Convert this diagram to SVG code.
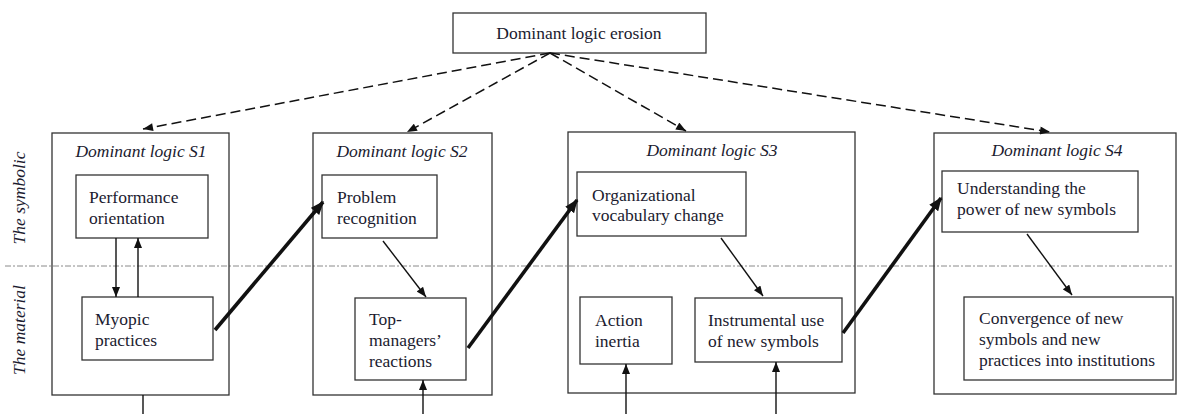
<svg xmlns="http://www.w3.org/2000/svg" width="1178" height="414" viewBox="0 0 1178 414">
<style>
.box{fill:#fff;stroke:#333;stroke-width:1.3}
.frame{fill:none;stroke:#333;stroke-width:1.3}
.t{font-family:"Liberation Serif","Times New Roman",serif;font-size:17.5px;fill:#1b1b2f}
.h{font-family:"Liberation Serif","Times New Roman",serif;font-size:17.5px;font-style:italic;fill:#1b1b2f;text-anchor:middle}
.thin{stroke:#111;stroke-width:1.4;fill:none}
.thick{stroke:#111;stroke-width:3.6;fill:none}
.dash{stroke:#111;stroke-width:1.5;fill:none;stroke-dasharray:10 5}
</style>
<defs>
<marker id="a" viewBox="0 0 10 8" refX="10" refY="4" markerWidth="11" markerHeight="8" markerUnits="userSpaceOnUse" orient="auto"><path d="M0,0L10,4L0,8z" fill="#111"/></marker>
<marker id="ab" viewBox="0 0 10 8" refX="9" refY="4" markerWidth="14" markerHeight="11" markerUnits="userSpaceOnUse" orient="auto"><path d="M0,0L10,4L0,8z" fill="#111"/></marker>
</defs>
<rect width="1178" height="414" fill="#fff"/>
<line x1="5" y1="266" x2="1172" y2="266" stroke="#8a8a8a" stroke-width="1" stroke-dasharray="6 2 2 2"/>
<text class="h" transform="translate(25,198) rotate(-90)">The symbolic</text>
<text class="h" transform="translate(25,330) rotate(-90)">The material</text>

<g id="erosion"><rect class="box" x="453" y="13" width="253" height="40"/><text class="t" x="579" y="39" text-anchor="middle">Dominant logic erosion</text></g>

<g id="S1"><rect class="frame" x="52" y="133" width="177" height="262"/><text class="h" x="141" y="157">Dominant logic S1</text></g>
<g id="perf"><rect class="box" x="76" y="175" width="132" height="63"/><text class="t" x="89" y="203">Performance</text><text class="t" x="89" y="224">orientation</text></g>
<g id="myopic"><rect class="box" x="82" y="297" width="131" height="63"/><text class="t" x="95" y="325">Myopic</text><text class="t" x="95" y="346">practices</text></g>

<g id="S2"><rect class="frame" x="313" y="133" width="179" height="262"/><text class="h" x="402" y="157">Dominant logic S2</text></g>
<g id="problem"><rect class="box" x="322" y="175" width="115" height="63"/><text class="t" x="337" y="203">Problem</text><text class="t" x="337" y="224">recognition</text></g>
<g id="top"><rect class="box" x="355" y="298" width="111" height="82"/><text class="t" x="369" y="325">Top-</text><text class="t" x="369" y="346">managers’</text><text class="t" x="369" y="367">reactions</text></g>

<g id="S3"><rect class="frame" x="568" y="132" width="287" height="261"/><text class="h" x="712" y="156">Dominant logic S3</text></g>
<g id="vocab"><rect class="box" x="577" y="172" width="169" height="64"/><text class="t" x="592" y="201">Organizational</text><text class="t" x="592" y="221">vocabulary change</text></g>
<g id="inertia"><rect class="box" x="580" y="297" width="92" height="67"/><text class="t" x="595" y="326">Action</text><text class="t" x="595" y="347">inertia</text></g>
<g id="instr"><rect class="box" x="695" y="298" width="147" height="64"/><text class="t" x="708" y="326">Instrumental use</text><text class="t" x="708" y="347">of new symbols</text></g>

<g id="S4"><rect class="frame" x="934" y="133" width="242" height="261"/><text class="h" x="1057" y="156">Dominant logic S4</text></g>
<g id="understand"><rect class="box" x="942" y="171" width="196" height="61"/><text class="t" x="957" y="194">Understanding the</text><text class="t" x="957" y="215">power of new symbols</text></g>
<g id="converge"><rect class="box" x="964" y="297" width="209" height="83"/><text class="t" x="979" y="324">Convergence of new</text><text class="t" x="979" y="345">symbols and new</text><text class="t" x="979" y="366">practices into institutions</text></g>

<g id="connectors">
<line class="dash" x1="550" y1="53" x2="143" y2="129" marker-end="url(#a)"/>
<line class="dash" x1="550" y1="53" x2="407" y2="132" marker-end="url(#a)"/>
<line class="dash" x1="550" y1="53" x2="686" y2="131" marker-end="url(#a)"/>
<line class="dash" x1="550" y1="53" x2="1050" y2="132" marker-end="url(#a)"/>
<line class="thin" x1="116" y1="238" x2="116" y2="297" marker-end="url(#a)"/>
<line class="thin" x1="138" y1="297" x2="138" y2="238" marker-end="url(#a)"/>
<line class="thin" x1="143" y1="395" x2="143" y2="414"/>
<line class="thin" x1="383" y1="241" x2="426" y2="297" marker-end="url(#a)"/>
<line class="thin" x1="721" y1="238" x2="763" y2="296" marker-end="url(#a)"/>
<line class="thin" x1="1027" y1="234" x2="1072" y2="295" marker-end="url(#a)"/>
<line class="thin" x1="423" y1="414" x2="423" y2="380" marker-end="url(#a)" stroke-width="1.8"/>
<line class="thin" x1="626" y1="414" x2="626" y2="364" marker-end="url(#a)" stroke-width="1.8"/>
<line class="thin" x1="776" y1="414" x2="776" y2="362" marker-end="url(#a)" stroke-width="1.8"/>
<line class="thick" x1="215" y1="330" x2="323" y2="202" marker-end="url(#ab)"/>
<line class="thick" x1="468" y1="348" x2="577" y2="200" marker-end="url(#ab)"/>
<line class="thick" x1="843" y1="333" x2="941" y2="198" marker-end="url(#ab)"/>
</g>
</svg>
